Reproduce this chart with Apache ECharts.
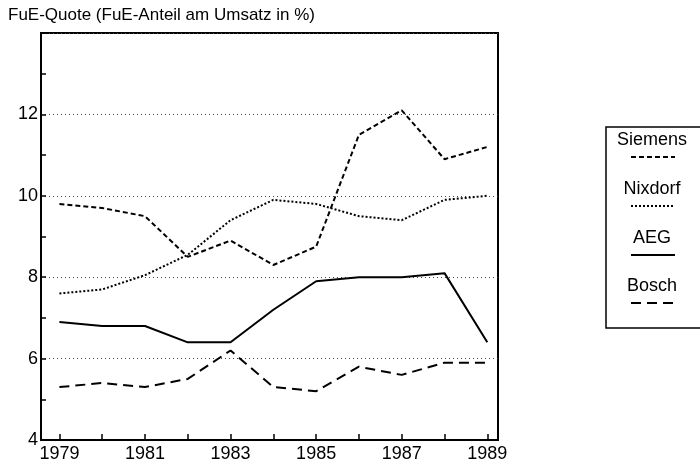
<!DOCTYPE html>
<html>
<head>
<meta charset="utf-8">
<script src="https://cdn.jsdelivr.net/npm/echarts@6/dist/echarts.min.js"></script>
<style>
  html, body { margin: 0; padding: 0; background: #fff; }
</style>
</head>
<body>
<div id="main" style="width: 700px;height:466px;"></div>
<script type="text/javascript">
    // Jahre und FuE-Quoten (in %)
    var years = [1979, 1980, 1981, 1982, 1983, 1984, 1985, 1986, 1987, 1988, 1989];
    var yearLabels = [1979, 1981, 1983, 1985, 1987, 1989];
    var siemens = [9.8, 9.7, 9.5, 8.5, 8.9, 8.3, 8.75, 11.5, 12.1, 10.9, 11.2];
    var nixdorf = [7.6, 7.7, 8.05, 8.55, 9.4, 9.9, 9.8, 9.5, 9.4, 9.9, 10.0];
    var aeg = [6.9, 6.8, 6.8, 6.4, 6.4, 7.2, 7.9, 8.0, 8.0, 8.1, 6.4];
    var bosch = [5.3, 5.4, 5.3, 5.5, 6.2, 5.3, 5.2, 5.8, 5.6, 5.9, 5.9];
    var names = ['Siemens', 'Nixdorf', 'AEG', 'Bosch'];

    // Linienstile je Firma
    var dashes = [[5, 3], [2, 2], 'solid', [10, 6]];

    function pairs(vals) {
        return years.map(function (y, i) { return [y, vals[i]]; });
    }

    var myChart = echarts.init(document.getElementById('main'));

    // Legende als Kasten rechts: Name oben, Linienmuster darunter
    var legendItems = [];
    legendItems.push({
        type: 'rect',
        shape: {x: 606, y: 127, width: 110, height: 201},
        style: {fill: '#fff', stroke: '#000', lineWidth: 1.5}
    });
    var legendTop = [140, 189, 238, 286];
    names.forEach(function (n, i) {
        legendItems.push({
            type: 'text',
            x: 652, y: legendTop[i],
            style: {text: n, font: '18px "Liberation Sans", Arial, sans-serif',
                fill: '#000', align: 'center', verticalAlign: 'middle'}
        });
        legendItems.push({
            type: 'line',
            shape: {x1: 631, y1: legendTop[i] + 17, x2: 675, y2: legendTop[i] + 17},
            style: {stroke: '#000', lineWidth: 2,
                lineDash: dashes[i] === 'solid' ? null : dashes[i]}
        });
    });

    var option = {
        animation: false,
        backgroundColor: '#fff',
        textStyle: {fontFamily: '"Liberation Sans", Arial, sans-serif', color: '#000'},
        title: {
            text: 'FuE-Quote (FuE-Anteil am Umsatz in %)',
            left: 3,
            top: 2,
            textStyle: {fontSize: 17, fontWeight: 'normal', color: '#000'}
        },
        grid: {
            left: 41, right: 202, top: 33, bottom: 26,
            show: true, borderColor: '#000', borderWidth: 2
        },
        xAxis: {
            type: 'value',
            min: 1978.57,
            max: 1989.25,
            axisLine: {lineStyle: {color: '#000', width: 2}},
            axisTick: {inside: true, length: 6, customValues: years,
                lineStyle: {color: '#000', width: 1.5}},
            axisLabel: {
                customValues: yearLabels, fontSize: 18, color: '#000', margin: 5,
                formatter: function (v) { return String(v); }
            },
            splitLine: {show: false}
        },
        yAxis: {
            type: 'value',
            min: 4,
            max: 14,
            interval: 2,
            axisLine: {show: true, lineStyle: {color: '#000', width: 2}},
            axisTick: {show: true, inside: true, length: 5, lineStyle: {color: '#000', width: 1.5}},
            minorTick: {show: true, splitNumber: 2, length: 5, lineStyle: {color: '#000', width: 1.5}},
            axisLabel: {
                fontSize: 18, color: '#000', margin: 3,
                formatter: function (v) { return v >= 14 ? '' : v; }
            },
            splitLine: {show: true, lineStyle: {color: '#444', width: 1, type: [1, 3]}}
        },
        series: [siemens, nixdorf, aeg, bosch].map(function (vals, i) {
            return {
                name: names[i],
                type: 'line',
                data: pairs(vals),
                symbol: 'none',
                lineStyle: {color: '#000', width: 2, type: dashes[i]}
            };
        }),
        graphic: legendItems
    };
    myChart.setOption(option);
</script>
</body>
</html>
